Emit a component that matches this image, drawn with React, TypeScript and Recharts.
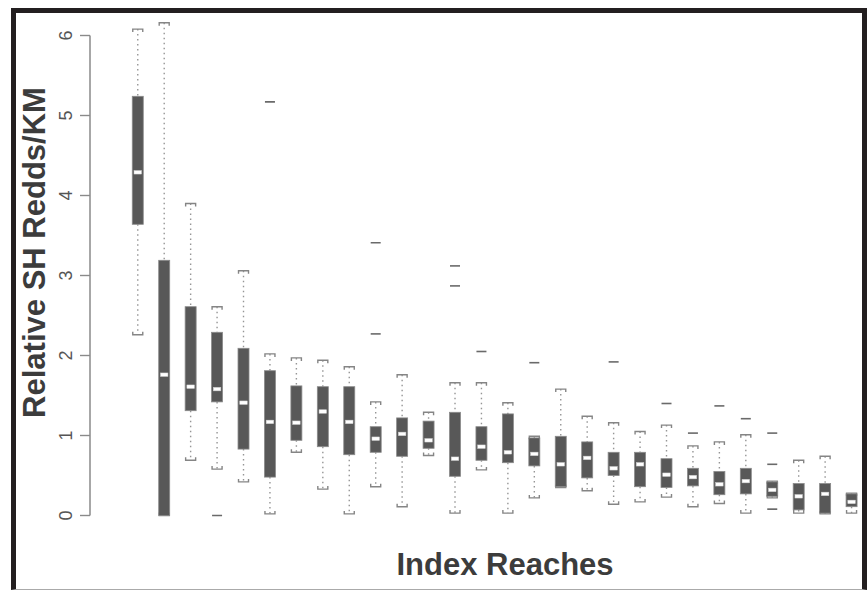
import React from 'react';
import { ComposedChart, Bar, XAxis, YAxis, ReferenceLine } from 'recharts';

const reaches = [1, 2, 3, 4, 5, 6, 7, 8, 9, 10, 11, 12, 13, 14, 15, 16, 17, 18, 19, 20, 21, 22, 23, 24, 25, 26, 27, 28];
const whiskerLow = [2.26, 0, 0.69, 0.58, 0.42, 0.02, 0.79, 0.33, 0.02, 0.36, 0.11, 0.75, 0.03, 0.57, 0.03, 0.22, 0.35, 0.31, 0.14, 0.17, 0.23, 0.11, 0.15, 0.03, 0.22, 0.03, 0.02, 0.03];
const lowerQuartile = [3.64, 0, 1.31, 1.42, 0.83, 0.48, 0.94, 0.86, 0.76, 0.79, 0.74, 0.84, 0.49, 0.69, 0.66, 0.62, 0.36, 0.47, 0.5, 0.36, 0.35, 0.37, 0.26, 0.27, 0.24, 0.07, 0.03, 0.11];
const medians = [4.29, 1.76, 1.61, 1.58, 1.41, 1.17, 1.16, 1.3, 1.17, 0.96, 1.02, 0.94, 0.71, 0.86, 0.79, 0.77, 0.64, 0.72, 0.59, 0.64, 0.51, 0.48, 0.39, 0.43, 0.32, 0.24, 0.27, 0.17];
const upperQuartile = [5.24, 3.19, 2.61, 2.29, 2.09, 1.81, 1.62, 1.61, 1.61, 1.11, 1.22, 1.18, 1.29, 1.11, 1.27, 0.97, 0.99, 0.92, 0.79, 0.79, 0.71, 0.59, 0.55, 0.59, 0.42, 0.4, 0.4, 0.27];
const whiskerHigh = [6.08, 6.16, 3.9, 2.61, 3.06, 2.02, 1.97, 1.94, 1.86, 1.42, 1.76, 1.29, 1.66, 1.66, 1.41, 0.99, 1.58, 1.24, 1.16, 1.05, 1.13, 0.87, 0.92, 1.01, 0.43, 0.69, 0.74, 0.28];
const outliers: number[][] = [[], [], [], [0], [], [5.17], [], [], [], [2.27, 3.41], [], [], [2.87, 3.12], [2.05], [], [1.91], [], [], [1.92], [], [1.4], [1.03], [1.37], [1.21], [0.08, 0.64, 1.03], [], [], []];
const yTicks = [0, 1, 2, 3, 4, 5, 6];

const data = reaches.map((r, i) => ({
  reach: r,
  lo: whiskerLow[i],
  q1: lowerQuartile[i],
  med: medians[i],
  q3: upperQuartile[i],
  hi: whiskerHigh[i],
  out: outliers[i],
  span: [Math.min(whiskerLow[i], ...outliers[i]), Math.max(whiskerHigh[i], ...outliers[i])],
}));

const BoxShape = (props: any) => {
  const { x, y, width, height, payload } = props;
  const d = payload;
  const [low, high] = d.span;
  const top = Math.min(y, y + height);
  const h = Math.abs(height);
  const k = high - low > 0 ? h / (high - low) : 0;
  const py = (v: number) => top + (high - v) * k;
  const cx = x + width / 2;
  const bw = 11;
  const cw = 10;
  const mw = 7.5;
  const yHi = py(d.hi);
  const yQ3 = py(d.q3);
  const yMed = py(d.med);
  const yQ1 = py(d.q1);
  const yLo = py(d.lo);
  return (
    <g>
      <line x1={cx} x2={cx} y1={yHi} y2={yQ3} stroke="#959595" strokeWidth={1.4} strokeDasharray="1.5 3.5" />
      <line x1={cx} x2={cx} y1={yQ1} y2={yLo} stroke="#959595" strokeWidth={1.4} strokeDasharray="1.5 3.5" />
      <path d={`M${cx - cw / 2},${yHi + 3} V${yHi} H${cx + cw / 2} V${yHi + 3}`} fill="none" stroke="#858585" strokeWidth={1.4} />
      <path d={`M${cx - cw / 2},${yLo - 3} V${yLo} H${cx + cw / 2} V${yLo - 3}`} fill="none" stroke="#858585" strokeWidth={1.4} />
      <rect x={cx - bw / 2} y={yQ3} width={bw} height={Math.max(yQ1 - yQ3, 0.5)} fill="#585858" stroke="#8a8a8a" strokeWidth={0.8} />
      <rect x={cx - mw / 2} y={yMed - 1.75} width={mw} height={3.5} fill="#ffffff" stroke="#d0d0d0" strokeWidth={0.5} />
      {d.out.map((o: number, j: number) => (
        <line key={j} x1={cx - 5} x2={cx + 5} y1={py(o)} y2={py(o)} stroke="#6a6a6a" strokeWidth={1.6} />
      ))}
    </g>
  );
};

const YTick = (props: any) => {
  const { x, y, payload } = props;
  return (
    <g transform={`translate(${x - 8},${y}) rotate(-90)`}>
      <text textAnchor="middle" x={0} y={0} fontSize={18} fill="#555555" fontFamily="'Liberation Sans', Arial, Helvetica, sans-serif">
        {payload.value}
      </text>
    </g>
  );
};

export default function App() {
  return (
    <div style={{ position: 'absolute', left: 0, top: 0, width: 867, height: 591, background: '#ffffff' }}>
      <ComposedChart
        width={867}
        height={591}
        data={data}
        margin={{ top: 11.5, right: 2, bottom: 51.5, left: 0 }}
      >
        <XAxis type="number" dataKey="reach" domain={[-0.815, 28.5]} allowDataOverflow hide />
        <YAxis
          type="number"
          domain={[-0.3, 6.3]}
          allowDataOverflow
          ticks={yTicks}
          width={90}
          axisLine={false}
          tickLine={{ stroke: '#8a8a8a', strokeWidth: 1.4 }}
          tickSize={10}
          tickMargin={0}
          tick={<YTick />}
        />
        <ReferenceLine
          segment={[{ x: -0.815, y: 0 }, { x: -0.815, y: 6 }]}
          stroke="#8a8a8a"
          strokeWidth={1.5}
          ifOverflow="visible"
        />
        <Bar dataKey="span" barSize={12} shape={<BoxShape />} isAnimationActive={false} />
      </ComposedChart>
      <svg width={867} height={591} style={{ position: 'absolute', left: 0, top: 0, pointerEvents: 'none' }}>
        <text
          transform="translate(45,252.5) rotate(-90)"
          textAnchor="middle"
          fontSize={31}
          fontWeight="bold"
          fill="#3c3c3c"
          fontFamily="'Liberation Sans', Arial, Helvetica, sans-serif"
        >
          Relative SH Redds/KM
        </text>
        <text
          x={505}
          y={575}
          textAnchor="middle"
          fontSize={31}
          fontWeight="bold"
          fill="#3c3c3c"
          fontFamily="'Liberation Sans', Arial, Helvetica, sans-serif"
        >
          Index Reaches
        </text>
      </svg>
      <div
        style={{
          position: 'absolute',
          left: 11,
          top: 8,
          width: 846,
          height: 576,
          borderLeft: '5px solid #231f20',
          borderTop: '5px solid #231f20',
          borderRight: '5px solid #231f20',
          borderBottom: '1px solid #aaaaaa',
          pointerEvents: 'none',
        }}
      />
    </div>
  );
}
